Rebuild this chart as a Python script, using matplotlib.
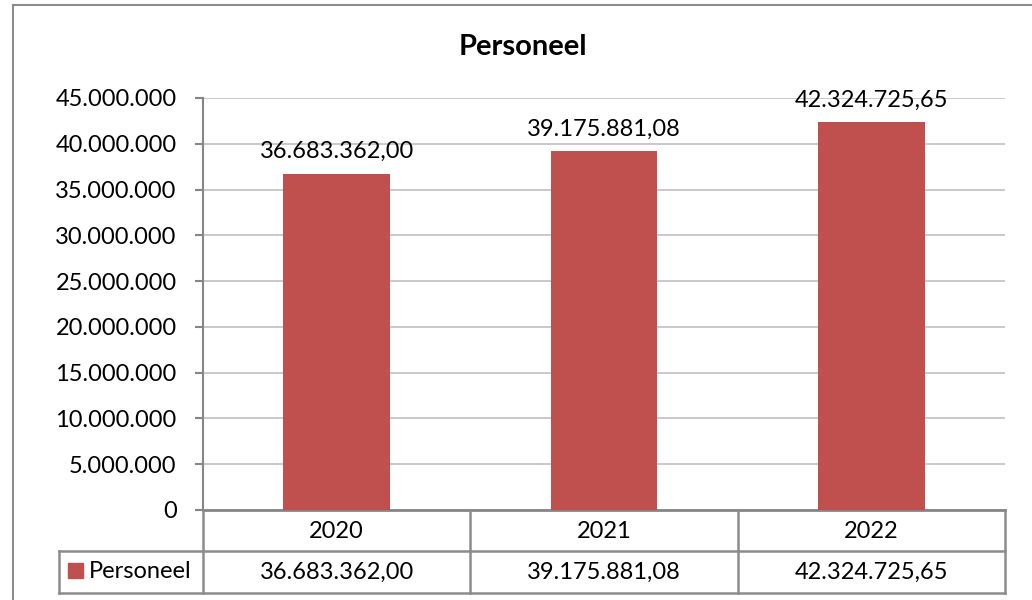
import matplotlib.pyplot as plt
from matplotlib.lines import Line2D
from matplotlib.patches import Rectangle
from matplotlib.ticker import FuncFormatter

years = ['2020', '2021', '2022']
personeel = [36683362.00, 39175881.08, 42324725.65]
series_name = 'Personeel'
bar_color = '#c0504d'
W, H = 1032, 600

plt.rcParams['font.family'] = ['Lato', 'DejaVu Sans']
fs = 17


def nl(v, dec=2):
    s = f'{v:,.{dec}f}'
    return s.replace(',', '#').replace('.', ',').replace('#', '.')


def px(x, y):
    return x / W, 1 - y / H


fig = plt.figure(figsize=(W / 100, H / 100), dpi=100)
ax = fig.add_axes([203 / W, 1 - 510 / H, 802 / W, 412 / H])

xs = range(len(years))
ax.bar(xs, personeel, width=0.4, color=bar_color, zorder=3)
for x, v in zip(xs, personeel):
    ax.text(x, v + 1300000, nl(v), ha='center', va='bottom', fontsize=fs)

ax.set_xlim(-0.5, len(years) - 0.5)
ax.set_ylim(0, 45000000)
ax.set_yticks(range(0, 45000001, 5000000))
ax.yaxis.set_major_formatter(FuncFormatter(lambda v, p: nl(v, 0)))
ax.tick_params(axis='y', labelsize=fs, length=6, width=1.5, color='#868686', pad=13)
ax.set_xticks([])
ax.grid(axis='y', color='#c0c0c0', lw=1.2, zorder=0)
for s in ['top', 'right']:
    ax.spines[s].set_visible(False)
ax.spines['left'].set_color('#868686')
ax.spines['left'].set_linewidth(1.5)
ax.spines['bottom'].set_color('#868686')
ax.spines['bottom'].set_linewidth(2)

fig.text(*px(523, 47), series_name, ha='center', va='center',
         fontsize=21, fontweight='bold')

# data table under the axis
gray = '#8c8c8c'
def line(x0, y0, x1, y1, lw=1.8):
    fig.add_artist(Line2D([x0 / W, x1 / W], [1 - y0 / H, 1 - y1 / H],
                          color=gray, lw=lw))

col_edges = [203 + i * 802 / 3 for i in range(4)]
for xe in col_edges:
    line(xe, 510, xe, 593)
line(59, 551, 59, 593)
line(59, 551, 1005, 551)
line(59, 593, 1005, 593)
for i, (yr, v) in enumerate(zip(years, personeel)):
    cx = (col_edges[i] + col_edges[i + 1]) / 2
    fig.text(*px(cx, 531), yr, ha='center', va='center', fontsize=fs)
    fig.text(*px(cx, 572), nl(v), ha='center', va='center', fontsize=fs)
fig.add_artist(Rectangle(px(68, 578), 15 / W, 15 / H, color=bar_color,
                         transform=fig.transFigure))
fig.text(*px(89, 571), series_name, ha='left', va='center', fontsize=fs)

# outer chart border
line(13, 5, 1040, 5, lw=1.5)
line(13, 5, 13, 610, lw=1.5)

fig.savefig('out.png', dpi=100)
